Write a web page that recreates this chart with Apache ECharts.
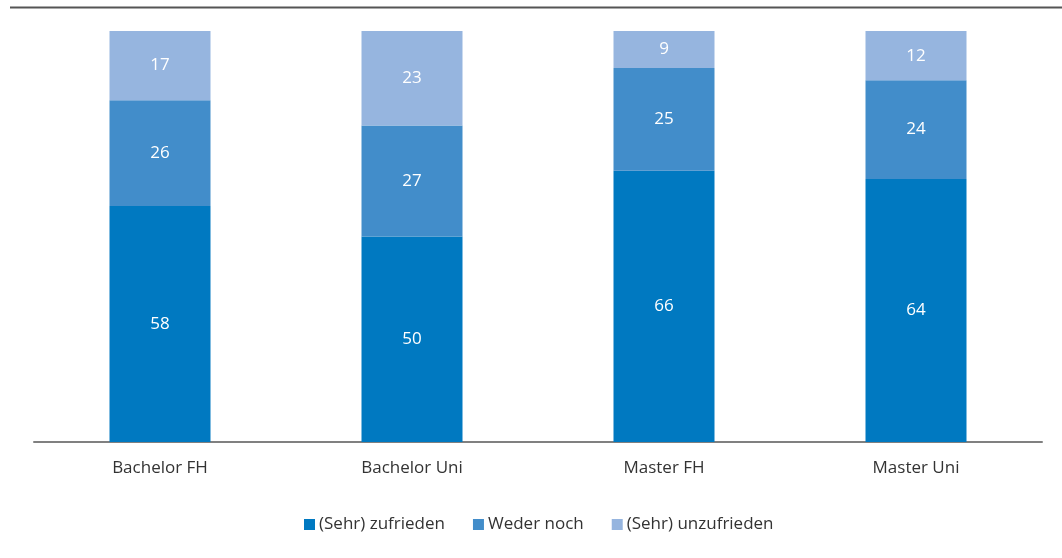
<!DOCTYPE html>
<html>
<head>
<meta charset="utf-8">
<script src="https://cdn.jsdelivr.net/npm/echarts@6/dist/echarts.min.js"></script>
<style>
  html, body { margin: 0; padding: 0; background: #fff; }
  #main { width: 1062px; height: 558px; }
</style>
</head>
<body>
<div id="main"></div>
<script>
var categories = ['Bachelor FH', 'Bachelor Uni', 'Master FH', 'Master Uni'];
var zufrieden = [58, 50, 66, 64];
var wederNoch = [26, 27, 25, 24];
var unzufrieden = [17, 23, 9, 12];

// jede Säule auf 100 % normiert, Beschriftung zeigt den Originalwert
function share(values, i) {
	var total = zufrieden[i] + wederNoch[i] + unzufrieden[i];
	return values[i] / total * 100;
}
function makeData(values) {
	var out = [];
	for (var i = 0; i < values.length; i++) {
		out.push({ value: share(values, i), raw: values[i] });
	}
	return out;
}

var font = 'Open Sans';
var labelOpt = {
	show: true,
	position: 'inside',
	color: '#fff',
	fontFamily: font,
	fontSize: 17,
	formatter: function (p) { return p.data.raw; }
};

var option = {
	animation: false,
	grid: { left: 34, right: 20, top: 31, bottom: 116 },
	graphic: [{
		type: 'line',
		shape: { x1: 10, y1: 7.5, x2: 1062, y2: 7.5 },
		style: { stroke: '#555', lineWidth: 2 }
	}],
	legend: {
		bottom: 20,
		left: 299,
		itemWidth: 11,
		itemHeight: 11,
		itemGap: 28,
		icon: 'rect',
		textStyle: { fontFamily: font, fontSize: 17, color: '#333', padding: [0, 0, 0, -1] },
		data: ['(Sehr) zufrieden', 'Weder noch', '(Sehr) unzufrieden']
	},
	xAxis: {
		type: 'category',
		data: categories,
		axisLine: { lineStyle: { color: '#808080', width: 2 } },
		axisTick: { show: false },
		axisLabel: { fontFamily: font, fontSize: 17, color: '#333', margin: 18 }
	},
	yAxis: {
		type: 'value',
		min: 0,
		max: 100,
		show: false
	},
	series: [{
		name: '(Sehr) zufrieden',
		type: 'bar',
		stack: 'total',
		barWidth: 101,
		itemStyle: { color: '#0079c1' },
		label: labelOpt,
		data: makeData(zufrieden)
	}, {
		name: 'Weder noch',
		type: 'bar',
		stack: 'total',
		barWidth: 101,
		itemStyle: { color: '#428dca' },
		label: labelOpt,
		data: makeData(wederNoch)
	}, {
		name: '(Sehr) unzufrieden',
		type: 'bar',
		stack: 'total',
		barWidth: 101,
		itemStyle: { color: '#96b5df' },
		label: labelOpt,
		data: makeData(unzufrieden)
	}]
};

var myChart = echarts.init(document.getElementById('main'));
myChart.setOption(option);
</script>
</body>
</html>
